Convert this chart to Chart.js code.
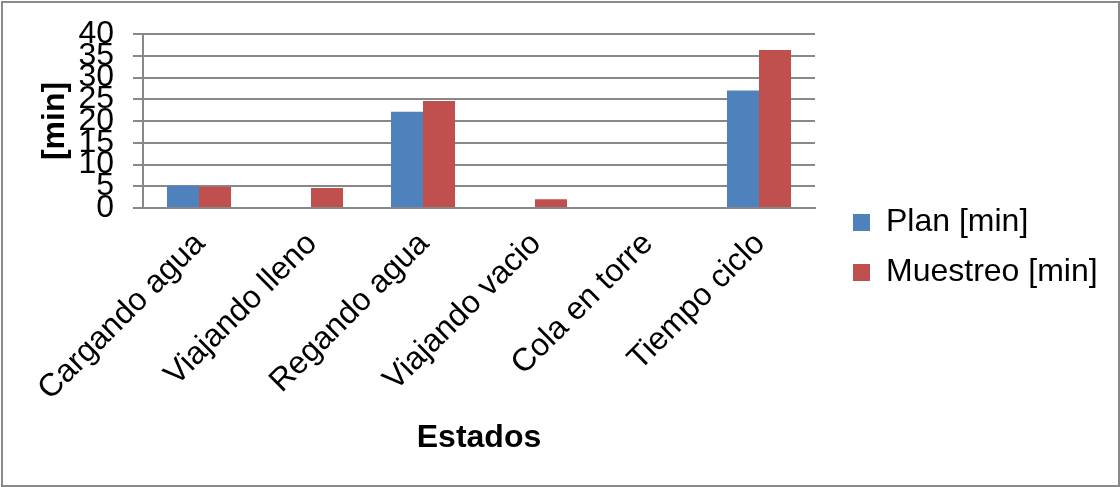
<!DOCTYPE html>
<html>
<head>
<meta charset="utf-8">
<script src="https://cdn.jsdelivr.net/npm/chart.js@4/dist/chart.umd.min.js"></script>
<style>
  html, body { margin: 0; padding: 0; background: #ffffff; }
  canvas { display: block; }
</style>
</head>
<body>
<canvas id="c" width="1120" height="487"></canvas>
<script>
// Tiempos por estado del ciclo de riego
const estados = ['Cargando agua', 'Viajando lleno', 'Regando agua', 'Viajando vacio', 'Cola en torre', 'Tiempo ciclo'];
const planMin = [5.1, 0, 22.1, 0, 0, 27.0];
const muestreoMin = [4.9, 4.6, 24.6, 2.0, 0, 36.3];
const yTicks = [0, 5, 10, 15, 20, 25, 30, 35, 40];

const FONT = '"Liberation Sans", Arial, sans-serif';
const GRID = '#888888';
const PLOT_RIGHT = 815;   // borde derecho del área de trazado
const LEGEND_GAP = 20;    // separación extra antes de la leyenda
const PAD_RIGHT = 6;

// Marco gris alrededor de todo el gráfico
const frame = {
  id: 'frame',
  beforeDraw(chart) {
    const ctx = chart.ctx;
    ctx.save();
    ctx.fillStyle = '#ffffff';
    ctx.fillRect(0, 0, chart.width, chart.height);
    ctx.strokeStyle = '#8a8a8a';
    ctx.lineWidth = 2;
    ctx.strokeRect(2, 2, chart.width - 3, chart.height - 3);
    ctx.restore();
  }
};

// Ancho fijo de la leyenda y desplazamiento a la derecha
const legendSlot = {
  id: 'legendSlot',
  beforeLayout(chart) {
    const lg = chart.legend;
    if (lg && !lg.__slot) {
      const fit = lg.fit;
      lg.fit = function () {
        fit.call(this);
        this.width = chart.width - PAD_RIGHT - PLOT_RIGHT;
      };
      lg.__slot = true;
    }
  },
  afterLayout(chart) {
    const lg = chart.legend;
    if (lg) { lg.left += LEGEND_GAP; lg.right += LEGEND_GAP; }
  }
};

new Chart(document.getElementById('c'), {
  type: 'bar',
  data: {
    labels: estados,
    datasets: [
      { label: 'Plan [min]', data: planMin, backgroundColor: '#4F81BD', borderWidth: 0 },
      { label: 'Muestreo [min]', data: muestreoMin, backgroundColor: '#C0504D', borderWidth: 0 }
    ]
  },
  options: {
    responsive: false,
    animation: false,
    devicePixelRatio: 1,
    layout: { padding: { left: 36, top: 34, bottom: 26, right: PAD_RIGHT } },
    datasets: { bar: { categoryPercentage: 0.572, barPercentage: 1.0 } },
    scales: {
      x: {
        grid: { display: false, drawTicks: false },
        border: { display: true, color: GRID, width: 2 },
        ticks: {
          minRotation: 45, maxRotation: 45, autoSkip: false, padding: 17, labelOffset: 1,
          color: '#000', font: { family: FONT, size: 32 }
        },
        title: {
          display: true, text: 'Estados', color: '#000',
          font: { family: FONT, size: 32, weight: 'bold' },
          padding: { top: 0, bottom: 4 }
        },
        afterFit(scale) { scale.height = 253; }
      },
      y: {
        min: 0, max: 40,
        afterBuildTicks(scale) { scale.ticks = yTicks.map(v => ({ value: v })); },
        grid: { color: GRID, lineWidth: 2, drawTicks: true, tickLength: 10, tickColor: GRID },
        border: { display: true, color: GRID, width: 2 },
        ticks: {
          autoSkip: false, padding: 19, color: '#000', font: { family: FONT, size: 32 }
        },
        title: {
          display: true, text: '[min]', color: '#000',
          font: { family: FONT, size: 32, weight: 'bold' },
          padding: { top: 0, bottom: 0 }
        },
        afterFit(scale) {
          scale.width = 107;
          scale.paddingTop = 0;
          scale.paddingBottom = 0;
        }
      }
    },
    plugins: {
      legend: {
        position: 'right', align: 'center',
        labels: {
          color: '#000', font: { family: FONT, size: 32 },
          boxWidth: 17, boxHeight: 17, padding: 18
        }
      },
      tooltip: { enabled: false }
    }
  },
  plugins: [frame, legendSlot]
});
</script>
</body>
</html>
